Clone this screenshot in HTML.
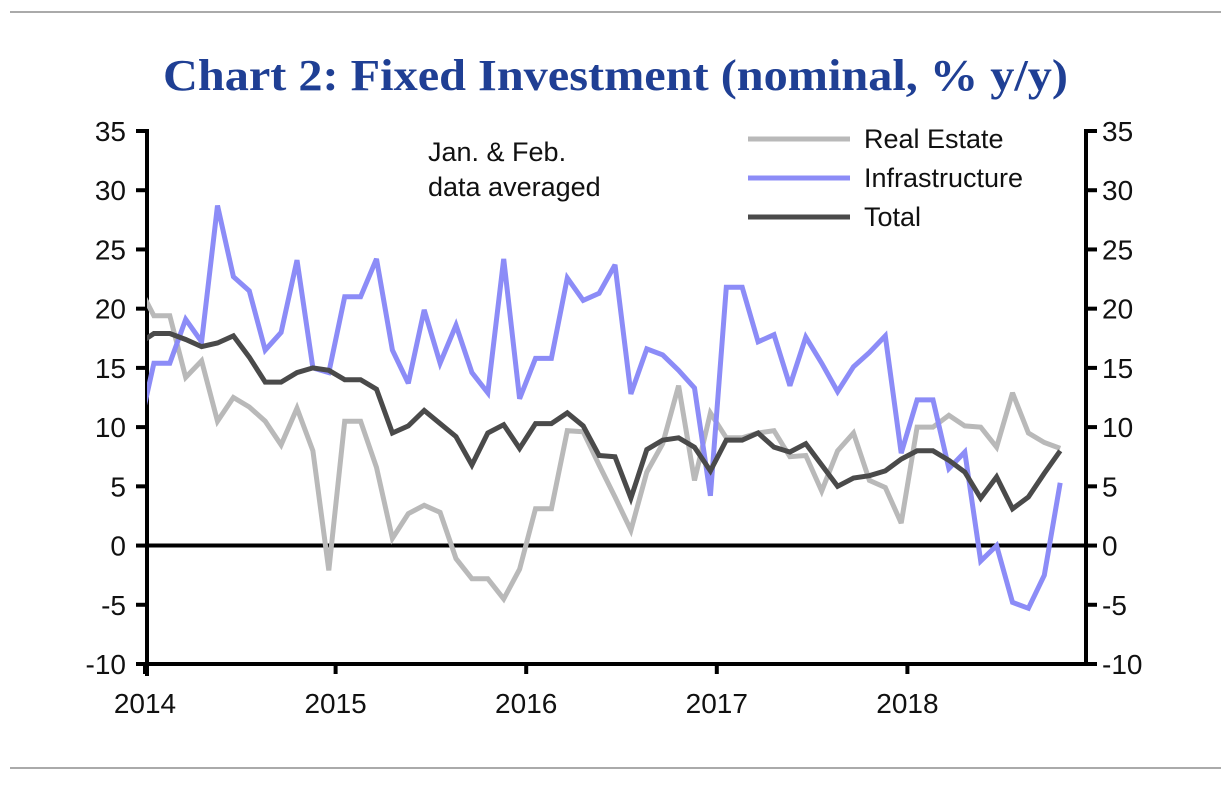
<!DOCTYPE html>
<html><head><meta charset="utf-8">
<style>
html,body{margin:0;padding:0;background:#fff;}
svg{display:block;font-family:"Liberation Sans",sans-serif;}
</style></head>
<body>
<svg id="chart" width="1231" height="785" viewBox="0 0 1231 785" xmlns="http://www.w3.org/2000/svg">
<line x1="10" y1="12" x2="1221" y2="12" stroke="#aaa" stroke-width="2"/>
<line x1="10" y1="768" x2="1221" y2="768" stroke="#aaa" stroke-width="2"/>
<text x="163" y="90" textLength="905" lengthAdjust="spacingAndGlyphs" font-family="Liberation Serif, serif" font-weight="bold" font-size="44" fill="#1f3f94">Chart 2: Fixed Investment (nominal, % y/y)</text>
<defs><clipPath id="plotclip"><rect x="147" y="120" width="939" height="544"/></clipPath></defs>
<g id="axes"></g>
<g id="series" clip-path="url(#plotclip)"></g>
<text x="428" y="161" font-size="27" fill="#111">Jan. &amp; Feb.</text>
<text x="428" y="196" font-size="27" fill="#111">data averaged</text>
<g>
<line x1="748" y1="139" x2="850" y2="139" stroke="#b9b9b9" stroke-width="5"/>
<text x="864" y="148" font-size="27" fill="#111">Real Estate</text>
<line x1="748" y1="178" x2="850" y2="178" stroke="#8c8cf7" stroke-width="5"/>
<text x="864" y="187" font-size="27" fill="#111">Infrastructure</text>
<line x1="748" y1="217" x2="850" y2="217" stroke="#4a4a4a" stroke-width="5"/>
<text x="864" y="226" font-size="27" fill="#111">Total</text>
</g>
</svg>
<script>
const infrastructure = [9.4,15.4,15.4,19.1,17.2,28.7,22.7,21.5,16.5,18,24.1,15,14.6,21,21,24.2,16.5,13.7,19.9,15.4,18.6,14.6,12.9,24.2,12.4,15.8,15.8,22.6,20.7,21.3,23.7,12.8,16.6,16.1,14.8,13.3,4.2,21.8,21.8,17.2,17.8,13.5,17.6,15.4,13,15.1,16.3,17.7,7.8,12.3,12.3,6.5,7.9,-1.3,0,-4.8,-5.3,-2.5,5.3];
const realEstate = [22,19.4,19.4,14.2,15.6,10.5,12.5,11.7,10.5,8.5,11.6,8,-2.1,10.5,10.5,6.6,0.6,2.7,3.4,2.8,-1.1,-2.8,-2.8,-4.5,-2,3.1,3.1,9.7,9.6,6.8,4.1,1.3,6.2,8.6,13.5,5.5,11.2,9.1,9.1,9.5,9.7,7.5,7.6,4.6,8,9.5,5.5,4.9,1.9,10,10,11,10.1,10,8.3,12.9,9.5,8.7,8.2];
const total = [17,17.9,17.9,17.4,16.8,17.1,17.7,15.9,13.8,13.8,14.6,15,14.8,14,14,13.2,9.5,10.1,11.4,10.3,9.2,6.8,9.5,10.2,8.2,10.3,10.3,11.2,10.1,7.6,7.5,4,8.1,8.9,9.1,8.3,6.3,8.9,8.9,9.5,8.3,7.9,8.6,6.8,5,5.7,5.9,6.3,7.3,8,8,7.2,6.2,4,5.8,3.1,4.1,6.1,8];
const yTicks = [35,30,25,20,15,10,5,0,-5,-10];
const xYears = ["2014","2015","2016","2017","2018"];

const NS = "http://www.w3.org/2000/svg";
const yMin = -10, yMax = 35, yTop = 131, yBot = 664;
const xAxisL = 147, xAxisR = 1086;
const x0 = 138, dx = 15.9;
const yScale = v => yBot - (v - yMin) / (yMax - yMin) * (yBot - yTop);
const xScale = i => x0 + i * dx;
const yearX = k => 145 + k * 190.6;

function mk(tag, attrs, parent) {
  const el = document.createElementNS(NS, tag);
  for (const k in attrs) el.setAttribute(k, attrs[k]);
  parent.appendChild(el);
  return el;
}
const axes = document.getElementById('axes');
const series = document.getElementById('series');

let l = mk('line', {x1: xAxisL, y1: yTop - 2, x2: xAxisL, y2: yBot + 12, stroke: '#000', 'stroke-width': 4}, axes);


l = mk('line', {x1: xAxisR, y1: yTop - 2, x2: xAxisR, y2: yBot, stroke: '#000', 'stroke-width': 4}, axes);


l = mk('line', {x1: xAxisL, y1: yBot, x2: xAxisR, y2: yBot, stroke: '#000', 'stroke-width': 4}, axes);



yTicks.forEach(v => {
  const y = yScale(v);
  let t = mk('line', {x1: xAxisL - 11, y1: y, x2: xAxisL, y2: y, stroke: '#000', 'stroke-width': 4}, axes);
  
  
  t = mk('line', {x1: xAxisR, y1: y, x2: xAxisR + 11, y2: y, stroke: '#000', 'stroke-width': 4}, axes);
  
  
  let tx = mk('text', {x: 126, y: y + 10, 'text-anchor': 'end', 'font-size': 28, fill: '#111'}, axes);
  tx.textContent = v;
  
  
  tx = mk('text', {x: 1102, y: y + 10, 'text-anchor': 'start', 'font-size': 28, fill: '#111'}, axes);
  tx.textContent = v;
  
  
});

xYears.forEach((yr, k) => {
  const x = yearX(k);
  const t = mk('line', {x1: x, y1: yBot, x2: x, y2: yBot + 10, stroke: '#000', 'stroke-width': 4}, axes);
  
  
  const tx = mk('text', {x: x, y: 713, 'text-anchor': 'middle', 'font-size': 28, fill: '#111'}, axes);
  tx.textContent = yr;
  
  
});

const z = mk('line', {x1: xAxisL, y1: yScale(0), x2: xAxisR, y2: yScale(0), stroke: '#000', 'stroke-width': 4}, axes);



function drawLine(arr, color, name) {
  const pts = arr.map((v, i) => xScale(i).toFixed(1) + ',' + yScale(v).toFixed(1)).join(' ');
  const p = mk('polyline', {points: pts, fill: 'none', stroke: color, 'stroke-width': 5, 'stroke-linejoin': 'miter', 'stroke-miterlimit': 3}, series);
  
  
}
drawLine(realEstate, '#b9b9b9', 'real-estate-line');
drawLine(infrastructure, '#8c8cf7', 'infrastructure-line');
drawLine(total, '#4a4a4a', 'total-line');
</script>
</body></html>
